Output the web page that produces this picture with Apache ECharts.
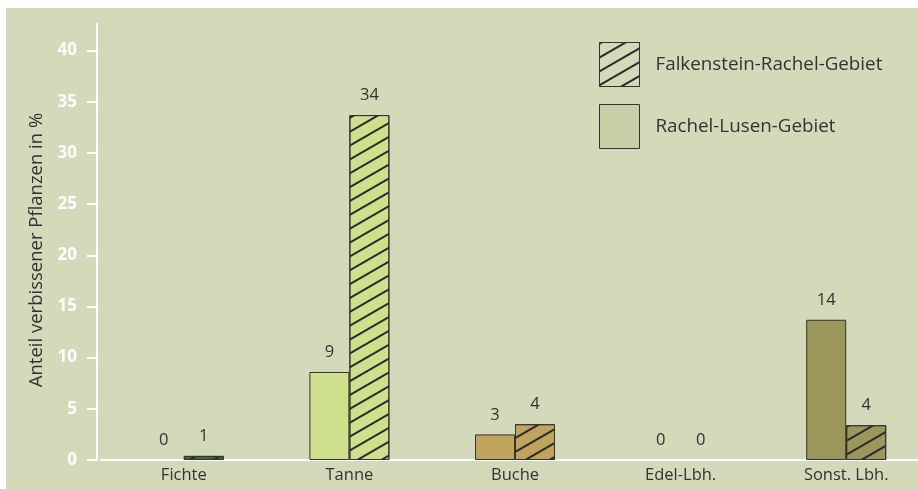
<!DOCTYPE html>
<html>
<head>
<meta charset="utf-8">
<script src="https://cdn.jsdelivr.net/npm/echarts@6/dist/echarts.min.js"></script>
<style>
html,body{margin:0;padding:0;background:#d3d9b9;overflow:hidden;}
#w{position:relative;width:918px;height:489px;overflow:hidden;background:#d3d9b9;}
#mt{position:absolute;left:0;top:0;width:100%;height:8px;background:#ffffff;}
#ml{position:absolute;left:0;top:0;width:6px;height:100%;background:#ffffff;}
#c{position:absolute;left:0;top:0;width:932px;height:489px;}
</style>
</head>
<body>
<div id="w">
<div id="mt"></div>
<div id="ml"></div>
<div id="c"></div>
</div>
<script>
// ---- data ----
const categories = ['Fichte', 'Tanne', 'Buche', 'Edel-Lbh.', 'Sonst. Lbh.'];
const seriesNames = ['Rachel-Lusen-Gebiet', 'Falkenstein-Rachel-Gebiet'];
const rachelLusen = [0, 8.6, 2.5, 0, 13.7];
const falkenstein = [0.4, 33.7, 3.5, 0, 3.4];
const rachelLusenLabels = ['0', '9', '3', '0', '14'];
const falkensteinLabels = ['1', '34', '4', '0', '4'];
const yTicks = [0, 5, 10, 15, 20, 25, 30, 35, 40];
const yTitle = 'Anteil verbissener Pflanzen in %';

// ---- styles ----
const catColors = ['#3e6a2f', '#cfe08c', '#c0a35c', '#c0a35c', '#9b965b'];
const ink = '#333333';
const font = "'Open Sans', 'Noto Sans', sans-serif";
const hatch = {
  symbol: 'rect',
  symbolSize: 1,
  color: '#2a2a2a',
  backgroundColor: 'rgba(0,0,0,0)',
  dashArrayX: [1, 0],
  dashArrayY: [1.3, 10],
  rotation: -Math.PI / 6
};

function items(vals) {
  return vals.map((v, i) => ({
    value: v,
    itemStyle: { color: catColors[i], borderWidth: v === 0 ? 0 : 1, borderColor: ink }
  }));
}

const chart = echarts.init(document.getElementById('c'), null, { renderer: 'canvas' });
chart.setOption({
  backgroundColor: 'transparent',
  animation: false,
  grid: { left: 101, width: 828, top: 24, bottom: 29, containLabel: false },
  legend: {
    orient: 'vertical',
    left: 599,
    top: 42,
    padding: 0,
    itemWidth: 40,
    itemHeight: 44,
    itemGap: 17,
    icon: 'rect',
    selectedMode: false,
    textStyle: { color: ink, fontSize: 18.8, fontFamily: font, padding: [0, 0, 0, 11] },
    data: [
      { name: seriesNames[1], itemStyle: { color: 'rgba(0,0,0,0)', borderColor: ink, borderWidth: 1 } },
      { name: seriesNames[0], itemStyle: { color: '#c8cfa8', borderColor: ink, borderWidth: 1, decal: 'none' } }
    ]
  },
  xAxis: {
    type: 'category',
    data: categories,
    axisLine: { show: true, lineStyle: { color: '#ffffff', width: 2 } },
    axisTick: { show: false },
    axisLabel: { color: ink, fontSize: 16.5, fontFamily: font, margin: 7, interval: 0 },
    splitLine: { show: false }
  },
  yAxis: {
    type: 'value',
    min: 0,
    max: 42.6,
    offset: 4,
    name: yTitle,
    nameLocation: 'middle',
    nameGap: 50,
    nameTextStyle: { color: ink, fontSize: 18.5, fontFamily: font, padding: [0, 16, 0, 0] },
    axisLine: { show: true, lineStyle: { color: '#ffffff', width: 2 } },
    axisTick: { show: true, length: 10, customValues: yTicks, lineStyle: { color: '#ffffff', width: 2 } },
    axisLabel: { customValues: yTicks, color: '#ffffff', fontWeight: 'bold', fontSize: 17, fontFamily: font, margin: 20 },
    splitLine: { show: false }
  },
  series: [
    {
      name: seriesNames[0],
      type: 'bar',
      barWidth: 40,
      barGap: '0%',
      itemStyle: { color: '#c8cfa8', borderColor: ink, borderWidth: 1 },
      label: {
        show: true, position: 'top', distance: 11, color: ink, fontSize: 16.5, fontFamily: font,
        formatter: p => rachelLusenLabels[p.dataIndex]
      },
      data: items(rachelLusen)
    },
    {
      name: seriesNames[1],
      type: 'bar',
      barWidth: 40,
      barGap: '0%',
      itemStyle: { color: '#c8cfa8', borderColor: ink, borderWidth: 1, decal: hatch },
      label: {
        show: true, position: 'top', distance: 11, color: ink, fontSize: 16.5, fontFamily: font,
        formatter: p => falkensteinLabels[p.dataIndex]
      },
      data: items(falkenstein)
    }
  ]
});
</script>
</body>
</html>
